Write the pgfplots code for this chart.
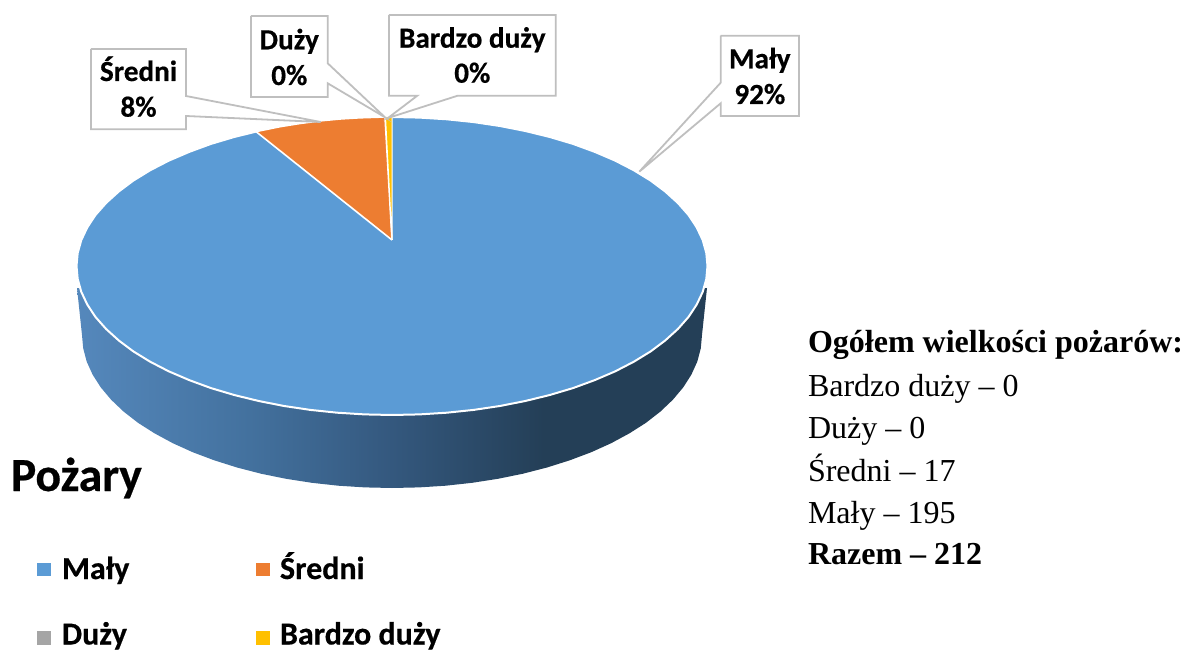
\documentclass[border=0pt]{standalone}
\usepackage{pgfplots}
\pgfplotsset{compat=1.18}
\usepackage{fontspec}
\setmainfont[BoldFeatures={FakeBold=0.5}]{Carlito}
\newfontfamily\serif{Liberation Serif}
\definecolor{mBlue}{HTML}{5B9BD5}
\definecolor{mOrange}{HTML}{ED7D31}
\definecolor{mGray}{HTML}{A5A5A5}
\definecolor{mGold}{HTML}{FFC000}
\definecolor{mLine}{HTML}{BFBFBF}
\definecolor{sA}{HTML}{5588BC}
\definecolor{sB}{HTML}{43719E}
\definecolor{sC}{HTML}{34587E}
\definecolor{sD}{HTML}{243F57}
\pgfdeclarehorizontalshading{sideshade}{100bp}{color(0bp)=(sA);color(25bp)=(sA);color(38.7bp)=(sB);color(50bp)=(sC);color(62bp)=(sD);color(100bp)=(sD)}
\newcommand{\calloutT}[3]{\node[anchor=base,font=\fontsize{29.2}{29.2}\selectfont\bfseries] at (axis cs:#1,#2) {#3};}
\newcommand{\legT}[3]{\node[anchor=base west,font=\fontsize{32}{32}\selectfont\bfseries] at (axis cs:#1,#2) {#3};}
\newcommand{\blockT}[2]{\node[anchor=base west,font=\serif\fontsize{32}{32}\selectfont] at (axis cs:808,#1) {#2};}
\begin{document}
\begin{tikzpicture}
\useasboundingbox (0,0) rectangle (1184pt,652pt);
\begin{axis}[
  at={(0,0)},anchor=south west,
  width=1184pt,height=652pt,scale only axis,hide axis,clip=false,
  xmin=0,xmax=1184,ymin=0,ymax=652,y dir=reverse,
  nodes={inner sep=0pt,outer sep=0pt},
  ]
% side of the pie
\addplot[shading=sideshade,draw=none] coordinates {
(77,288)(82,335)(83.2,348.3)(86.7,361.6)(92.6,374.6)(100.7,387.3)(111.1,399.7)(123.5,411.5)(138,422.8)(154.5,433.3)(172.8,443.2)(192.7,452.2)(214.2,460.3)(237,467.5)(261,473.7)(286,478.8)(311.8,482.8)(338.2,485.7)(365,487.4)(392,488)
(419,487.4)(445.8,485.7)(472.2,482.8)(498,478.8)(523,473.7)(547,467.5)(569.8,460.3)(591.3,452.2)(611.2,443.2)(629.5,433.3)(646,422.8)(660.5,411.5)(672.9,399.7)(683.3,387.3)(691.4,374.6)(697.3,361.6)(700.8,348.3)(702,335)(707,288)(392,300)(77,288)};
% top: Maly
\addplot[fill=mBlue,draw=white,line width=2pt,line join=round] coordinates {
(707.5,266)(706.3,279)(702.7,291.9)(696.7,304.6)(688.5,317)(677.9,329)(665.2,340.5)(650.5,351.5)(633.7,361.8)(615.1,371.4)(594.8,380.1)(573,388.1)(549.8,395)(525.3,401)(499.9,406)(473.7,409.9)(446.8,412.7)(419.5,414.4)(392,415)
(364.5,414.4)(337.2,412.7)(310.3,409.9)(284.1,406)(258.7,401)(234.2,395)(211,388.1)(189.2,380.1)(168.9,371.4)(150.3,361.8)(133.5,351.5)(118.8,340.5)(106.1,329)(95.5,317)(87.3,304.6)(81.3,291.9)(77.7,279)(76.5,266)
(77.7,253)(81.3,240.1)(87.3,227.4)(95.5,215)(106.1,203)(118.8,191.5)(133.5,180.5)(150.3,170.2)(168.9,160.6)(189.2,151.9)(211,143.9)(234.2,137)(258.7,131)(284.1,126)(310.3,122.1)(337.2,119.3)(364.5,117.6)(392,117)
(419.5,117.6)(446.8,119.3)(473.7,122.1)(499.9,126)(525.3,131)(549.8,137)(573,143.9)(594.8,151.9)(615.1,160.6)(633.7,170.2)(650.5,180.5)(665.2,191.5)(677.9,203)(688.5,215)(696.7,227.4)(702.7,240.1)(706.3,253)(707.5,266)};
% Sredni wedge
\addplot[fill=mOrange,draw=white,line width=1.6pt,line join=miter] coordinates {
(392,240)(256,131.6)(280,126.7)(300,123.5)(320,120.9)(340,119)(360,117.8)(385,117)(392,240)};
% Duzy + Bardzo duzy wedge
\addplot[fill=mGold,draw=white,line width=1pt] coordinates {
(392,240)(385.5,117)(392,117)(392,240)};
% callouts
\addplot[fill=white,draw=mLine,line width=1.8pt] coordinates {
(91,49)(186,49)(186,96)(320.7,122)(186,116)(186,129.3)(91,129.3)(91,49)};
\addplot[fill=white,draw=mLine,line width=1.8pt] coordinates {
(251,16)(327.7,16)(327.7,63.3)(385,117.3)(327.7,83.3)(327.7,97)(251,97)(251,16)};
\addplot[fill=white,draw=mLine,line width=1.8pt] coordinates {
(389,15)(555.7,15)(555.7,95.7)(457.7,95.7)(388,118)(417.3,95.7)(389,95.7)(389,15)};
\addplot[fill=white,draw=mLine,line width=1.8pt] coordinates {
(720.7,35.7)(799,35.7)(799,116)(720.7,116)(720.7,103.3)(639.3,171.7)(720.7,82.7)(720.7,35.7)};
% legend markers
\addplot[only marks,mark=square*,mark size=6.2pt,mark options={fill=mBlue,draw=mBlue,line width=0pt}] coordinates {(44,569.5)};
\addplot[only marks,mark=square*,mark size=6.2pt,mark options={fill=mOrange,draw=mOrange,line width=0pt}] coordinates {(263,569.5)};
\addplot[only marks,mark=square*,mark size=6.2pt,mark options={fill=mGray,draw=mGray,line width=0pt}] coordinates {(44,638)};
\addplot[only marks,mark=square*,mark size=6.2pt,mark options={fill=mGold,draw=mGold,line width=0pt}] coordinates {(263,638)};
% callout text
\calloutT{138.5}{81}{Średni}
\calloutT{138.5}{116.7}{8\%}
\calloutT{289.3}{49.3}{Duży}
\calloutT{289.3}{85}{0\%}
\calloutT{472.3}{47.7}{Bardzo duży}
\calloutT{472.3}{82.7}{0\%}
\calloutT{759.8}{68.3}{Mały}
\calloutT{759.8}{104}{92\%}
% title and legend text
\node[anchor=base west,font=\fontsize{47.5}{47.5}\selectfont\bfseries] at (axis cs:11,491) {Pożary};
\legT{62}{579}{Mały}
\legT{280}{579}{Średni}
\legT{62}{644.5}{Duży}
\legT{280}{644.5}{Bardzo duży}
% text block
\blockT{352.5}{\textbf{Ogółem wielkości pożarów:}}
\blockT{396}{Bardzo duży – 0}
\blockT{438}{Duży – 0}
\blockT{481}{Średni – 17}
\blockT{523}{Mały – 195}
\blockT{564.5}{\textbf{Razem – 212}}
\end{axis}
\end{tikzpicture}
\end{document}
